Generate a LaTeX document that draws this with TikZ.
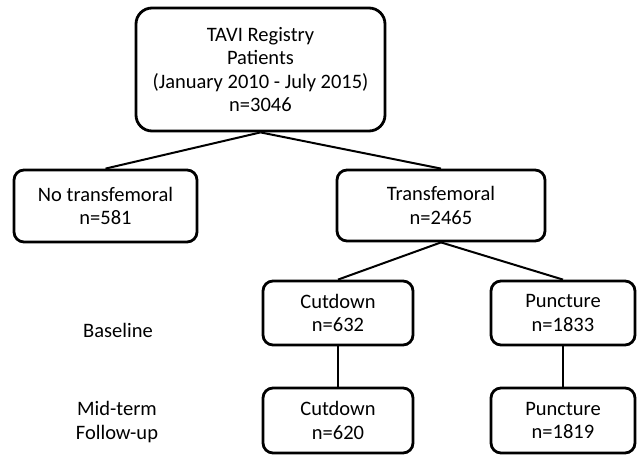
\documentclass[tikz,border=0pt]{standalone}
\usepackage{fontspec}
\setmainfont{Carlito}
\begin{document}
\begin{tikzpicture}[x=1pt,y=-1pt,
        caja/.style={draw, line width=2.8pt, rounded corners=10pt, align=center, inner sep=0pt, font=\fontsize{20.5}{23.5}\selectfont},
        etiqueta/.style={align=center, font=\fontsize{20.5}{24.5}\selectfont},
        linea/.style={line width=2pt}]
        \useasboundingbox (0,0) rectangle (637,455);
        % Cajas del diagrama
        \node[caja, rounded corners=16pt, minimum width=249pt, minimum height=123pt] (registro) at (260.5,69.5) {TAVI Registry\\Patients\\(January 2010 - July 2015)\\n=3046};
        \node[caja, minimum width=183pt, minimum height=72pt] (notf) at (105.5,206) {No transfemoral\\n=581};
        \node[caja, minimum width=208pt, minimum height=71pt] (tf) at (441,205.5) {Transfemoral\\n=2465};
        \node[caja, minimum width=150pt, minimum height=64pt] (cutbase) at (338,313) {Cutdown\\n=632};
        \node[caja, minimum width=144pt, minimum height=64pt] (puncbase) at (563,313) {Puncture\\n=1833};
        \node[caja, minimum width=150pt, minimum height=65pt] (cutfu) at (338,420.5) {Cutdown\\n=620};
        \node[caja, minimum width=144pt, minimum height=65pt] (puncfu) at (563,420.5) {Puncture\\n=1819};
        \node[etiqueta] (baseline) at (118,330) {Baseline};
        \node[etiqueta] (followup) at (117,422) {Mid-term\\Follow-up};
        % Lineas entre cajas
        \draw[linea] (registro.south) -- (notf.north);
        \draw[linea] (registro.south) -- (tf.north);
        \draw[linea] (tf.south) -- (cutbase.north);
        \draw[linea] (tf.south) -- (puncbase.north);
        \draw[linea] (cutbase) -- (cutfu);
        \draw[linea] (puncbase) -- (puncfu);
    \end{tikzpicture}
\end{document}
